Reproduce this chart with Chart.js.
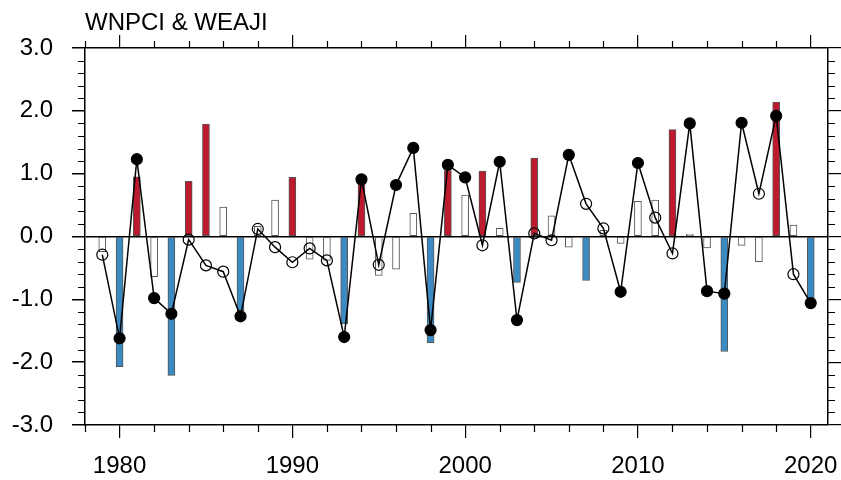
<!DOCTYPE html>
<html>
<head>
<meta charset="utf-8">
<script src="https://cdn.jsdelivr.net/npm/chart.js@4"></script>
<style>
  body { margin: 0; background: #fff; }
</style>
</head>
<body>
<canvas id="chart" width="841" height="480"></canvas>
<script>
// === Données ===
const years = [
  1979, 1980, 1981, 1982, 1983, 1984, 1985, 1986, 1987, 1988,
  1989, 1990, 1991, 1992, 1993, 1994, 1995, 1996, 1997, 1998,
  1999, 2000, 2001, 2002, 2003, 2004, 2005, 2006, 2007, 2008,
  2009, 2010, 2011, 2012, 2013, 2014, 2015, 2016, 2017, 2018,
  2019, 2020
];

// barres
const wnpci = [
  -0.24, -2.07, 0.95, -0.64, -2.21, 0.88, 1.79, 0.47, -1.18, 0.16,
  0.58, 0.94, -0.36, -0.38, -1.39, 0.92, -0.62, -0.52, 0.37, -1.69,
  1.05, 0.66, 1.04, 0.13, -0.73, 1.25, 0.33, -0.17, -0.70, 0.10,
  -0.11, 0.56, 0.58, 1.70, 0.04, -0.18, -1.83, -0.14, -0.40, 2.14,
  0.18, -1.06
];

// courbe avec points
const weaji = [
  -0.29, -1.62, 1.23, -0.98, -1.23, -0.05, -0.46, -0.56, -1.27, 0.12,
  -0.17, -0.41, -0.19, -0.38, -1.60, 0.91, -0.45, 0.82, 1.41, -1.49,
  1.14, 0.94, -0.14, 1.19, -1.33, 0.05, -0.06, 1.30, 0.52, 0.13,
  -0.88, 1.17, 0.30, -0.27, 1.80, -0.87, -0.91, 1.81, 0.68, 1.92,
  -0.60, -1.06
];

const xTickLabels = [1980, 1990, 2000, 2010, 2020];
const yTickLabels = [-3, -2, -1, 0, 1, 2, 3];

const BAR_THRESHOLD = 0.68;
const DOT_THRESHOLD = 0.7;
const RED = "#bd1a2e";
const BLUE = "#3b8bc2";

Chart.defaults.font.family = "'Liberation Sans', Arial, sans-serif";
Chart.defaults.color = "#000";

// petites graduations + titre
const minorTicks = {
  id: "minorTicks",
  afterDraw(chart) {
    const ctx = chart.ctx;
    const area = chart.chartArea;
    const x = chart.scales.x;
    const y = chart.scales.y;
    ctx.save();
    ctx.strokeStyle = "#000";
    ctx.lineWidth = 1.2;
    ctx.beginPath();
    for (let yr = 1978; yr <= 2021; yr += 2) {
      if (yr % 10 === 0) continue;
      const px = Math.round(x.getPixelForValue(yr)) + 0.5;
      ctx.moveTo(px, area.bottom); ctx.lineTo(px, area.bottom + 7);
      ctx.moveTo(px, area.top); ctx.lineTo(px, area.top - 7);
    }
    for (let i = -15; i <= 15; i++) {
      if (i % 5 === 0) continue;
      const py = Math.round(y.getPixelForValue(i / 5)) + 0.5;
      ctx.moveTo(area.left, py); ctx.lineTo(area.left - 7, py);
      ctx.moveTo(area.right, py); ctx.lineTo(area.right + 7, py);
    }
    ctx.stroke();

    ctx.font = "24px 'Liberation Sans', Arial, sans-serif";
    ctx.fillStyle = "#000";
    ctx.textBaseline = "alphabetic";
    ctx.fillText("WNPCI & WEAJI", area.left, 30);
    ctx.restore();
  }
};

const setTicks = list => scale => { scale.ticks = list.map(v => ({ value: v })); };

new Chart(document.getElementById("chart"), {
  data: {
    datasets: [
      {
        type: "line",
        label: "WEAJI",
        data: years.map((yr, i) => ({ x: yr, y: weaji[i] })),
        borderColor: "#000",
        borderWidth: 1.5,
        tension: 0,
        pointRadius: 5.5,
        pointBorderWidth: 1.2,
        pointBorderColor: "#000",
        pointBackgroundColor: c => Math.abs(c.raw.y) >= DOT_THRESHOLD ? "#000" : "rgba(0,0,0,0)",
        order: 0
      },
      {
        type: "bar",
        label: "WNPCI",
        data: years.map((yr, i) => ({ x: yr, y: wnpci[i] })),
        backgroundColor: c => {
          const v = c.raw.y;
          if (v >= BAR_THRESHOLD) return RED;
          if (v <= -BAR_THRESHOLD) return BLUE;
          return "#fff";
        },
        borderColor: "#555",
        borderWidth: 1,
        borderSkipped: false,
        barThickness: 7,
        order: 1
      }
    ]
  },
  options: {
    responsive: false,
    animation: false,
    layout: { padding: 0 },
    plugins: {
      legend: { display: false },
      tooltip: { enabled: false }
    },
    scales: {
      x: {
        type: "linear",
        position: "bottom",
        min: 1978,
        max: 2021,
        offset: false,
        afterBuildTicks: setTicks(xTickLabels),
        afterFit: s => { s.height = 55; s.paddingLeft = 0; s.paddingRight = 0; },
        ticks: {
          callback: v => String(v),
          font: { size: 24 },
          padding: 14,
          maxRotation: 0,
          autoSkip: false
        },
        grid: { offset: false, drawOnChartArea: false, tickLength: 13, color: "#000", lineWidth: 1.2 },
        border: { color: "#000", width: 1.5 }
      },
      x2: {
        type: "linear",
        position: "top",
        min: 1978,
        max: 2021,
        offset: false,
        afterBuildTicks: setTicks(xTickLabels),
        afterFit: s => { s.height = 48; s.paddingLeft = 0; s.paddingRight = 0; },
        ticks: { display: false },
        grid: { offset: false, drawOnChartArea: false, tickLength: 13, color: "#000", lineWidth: 1.2 },
        border: { color: "#000", width: 1.5 }
      },
      y: {
        type: "linear",
        position: "left",
        min: -3,
        max: 3,
        afterBuildTicks: setTicks(yTickLabels),
        afterFit: s => { s.width = 85; s.paddingTop = 0; s.paddingBottom = 0; },
        ticks: {
          callback: v => v.toFixed(1),
          font: { size: 24 },
          padding: 19
        },
        grid: {
          drawOnChartArea: true,
          color: c => c.tick && c.tick.value === 0 ? "#000" : "rgba(0,0,0,0)",
          tickColor: "#000",
          lineWidth: 1.5,
          tickLength: 13
        },
        border: { color: "#000", width: 1.5 }
      },
      y2: {
        type: "linear",
        position: "right",
        min: -3,
        max: 3,
        afterBuildTicks: setTicks(yTickLabels),
        afterFit: s => { s.width = 13; s.paddingTop = 0; s.paddingBottom = 0; },
        ticks: { display: false },
        grid: { drawOnChartArea: false, tickLength: 13, color: "#000", lineWidth: 1.2 },
        border: { color: "#000", width: 1.5 }
      }
    }
  },
  plugins: [minorTicks]
});
</script>
</body>
</html>
